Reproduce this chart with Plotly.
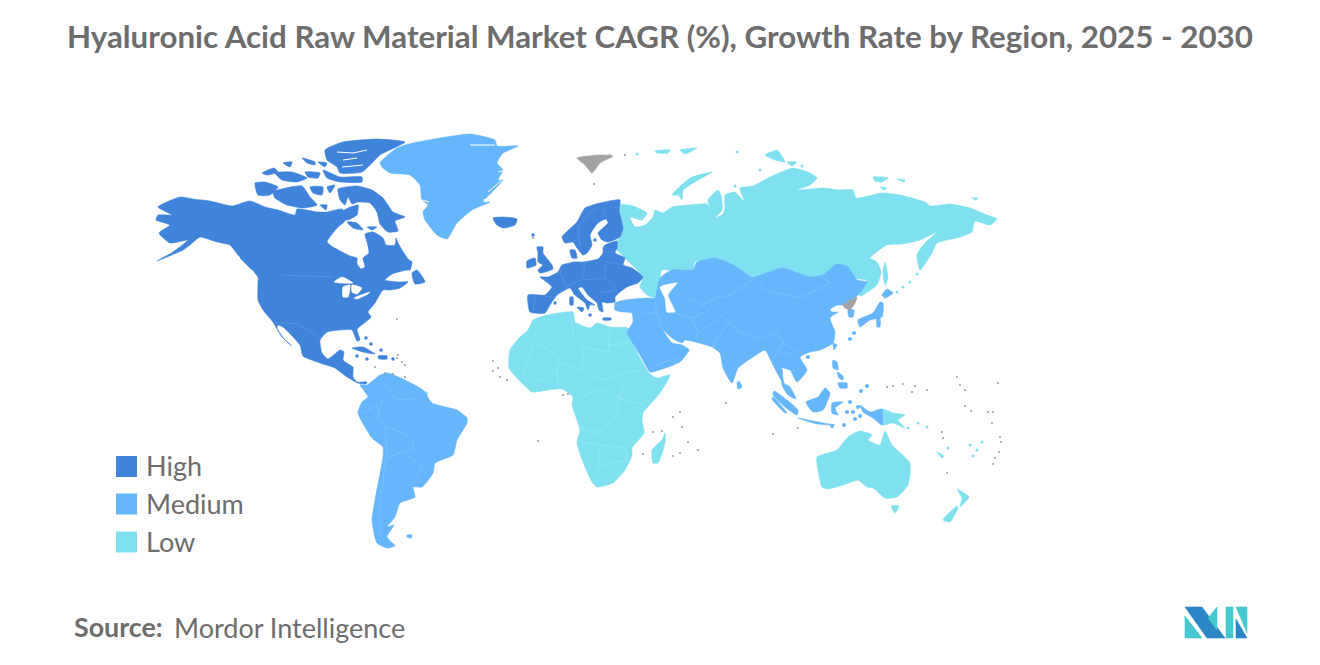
import plotly.graph_objects as go

# No topojson without network, so the outlines are traced off the reference,
# in map units (x to the right, y downwards)
HIGH_COLOR = "#3f83db"
MEDIUM_COLOR = "#66b6fb"
LOW_COLOR = "#7fe1f0"
GRAY_COLOR = "#a3a3a3"
TEXT_COLOR = "#6d6d6d"

north_america = [(158,207),(180,197),(193,199),(210,201),(232,206),(250,201),(265,207),(278,210),(295,215),(297,209),(317,212),(327,212),(342,209),(347,219),(337,228),(327,242),(333,247),(350,256),(357,258),(357,264),(361,269),(365,267),(363,258),(369,253),(367,242),(365,234),(373,232),(383,238),(386,245),(395,245),(396,238),(398,243),(408,259),(412,262),(410,270),(407,270),(392,274),(385,280),(398,282),(408,282),(400,288),(390,290),(383,290),(375,303),(368,312),(371,317),(358,328),(357,330),(360,340),(357,341),(352,330),(340,330),(327,332),(320,340),(322,353),(328,359),(340,350),(344,352),(343,360),(350,365),(353,367),(353,377),(357,382),(367,382),(366,384),(358,383),(347,377),(335,368),(323,364),(303,356),(300,345),(283,327),(278,325),(277,328),(285,340),(292,346),(282,337),(273,322),(263,310),(258,300),(258,283),(258,277),(252,270),(240,258),(230,245),(217,242),(200,237),(190,245),(183,250),(157,261),(173,252),(188,240),(170,243),(159,233),(170,225),(156,220),(158,215),(172,215)]
melville_peninsula = [(342,212),(348,208),(358,205),(357,215),(347,220)]
banks_island = [(255,183),(265,182),(278,187),(270,195),(258,195)]
victoria_island = [(273,192),(302,186),(310,197),(317,205),(303,208),(287,205),(275,198)]
melville_island = [(262,173),(274,168),(278,172),(267,175)]
bathurst_island = [(275,173),(292,172),(307,178),(297,182),(282,180)]
borden_island = [(283,163),(292,162),(290,167)]
ellef_ringnes = [(302,158),(315,162),(315,165),(307,163)]
cornwallis = [(305,172),(320,173),(318,178),(308,177)]
amund_ringnes = [(318,162),(327,163),(325,167)]
devon_island = [(323,170),(340,177),(362,177),(362,182),(340,182),(327,178)]
somerset = [(310,187),(323,187),(322,195),(313,193)]
brodeur = [(327,187),(335,185),(330,193)]
king_william = [(320,205),(327,205),(326,210)]
baffin_island = [(338,189),(357,186),(372,190),(383,198),(393,212),(405,217),(395,221),(398,231),(388,232),(380,224),(377,212),(370,203),(358,202),(352,204),(348,197),(345,205),(340,200)]
southampton = [(347,222),(357,223),(363,230),(353,228)]
coats_island = [(367,227),(377,227),(372,230)]
ellesmere = [(325,150),(343,142),(377,139),(405,142),(380,155),(372,163),(362,172),(340,173),(337,167),(327,160)]
newfoundland = [(412,273),(417,270),(425,282),(415,284)]
cuba = [(352,348),(363,347),(375,354),(363,352)]
hispaniola = [(378,356),(387,356),(387,359),(379,359)]
iceland = [(493,218),(503,217),(517,219),(515,225),(503,228),(497,225)]
scandinavia = [(562,237),(577,222),(585,208),(600,203),(620,200),(619,210),(623,228),(620,237),(608,242),(602,240),(598,233),(608,223),(606,219),(598,223),(590,235),(592,245),(587,253),(583,255),(577,248),(573,242),(565,243)]
denmark = [(570,250),(575,250),(577,258),(572,258)]
mainland_europe = [(605,245),(617,241),(617,248),(615,253),(625,258),(623,265),(632,268),(643,277),(638,283),(632,285),(627,287),(620,292),(615,297),(615,302),(607,303),(602,302),(603,312),(599,310),(597,303),(588,295),(582,287),(578,288),(587,300),(595,305),(590,305),(588,310),(585,303),(575,295),(570,288),(565,290),(557,295),(550,305),(545,313),(530,312),(528,295),(545,295),(552,287),(548,283),(540,277),(548,277),(558,272),(562,265),(570,263),(573,262),(583,262),(598,259),(603,253),(603,248)]
great_britain = [(537,247),(543,247),(543,253),(552,265),(553,269),(540,273),(538,270),(543,265),(538,262),(538,253)]
ireland = [(527,261),(535,258),(536,265),(527,268)]
sardinia = [(570,297),(573,297),(573,305),(570,305)]
sicily = [(577,307),(584,308),(582,312)]
crete = [(603,318),(611,318),(611,320),(603,320)]

greenland = [(380,163),(397,148),(413,143),(440,138),(470,134),(495,140),(497,146),(518,146),(503,153),(497,163),(503,170),(498,180),(503,180),(492,192),(483,202),(490,202),(472,210),(457,223),(447,239),(437,235),(425,220),(423,212),(428,205),(422,200),(420,185),(410,175),(390,173),(383,168)]
mainland_asia = [(615,303),(625,300),(647,298),(655,298),(660,278),(672,270),(693,270),(697,262),(715,258),(733,265),(753,277),(782,268),(810,277),(823,275),(837,264),(848,267),(857,280),(867,282),(858,295),(843,305),(837,305),(828,310),(827,307),(832,312),(838,312),(830,318),(835,332),(833,343),(820,350),(810,352),(800,357),(807,370),(797,382),(790,370),(782,368),(783,383),(773,365),(765,350),(753,357),(738,368),(732,383),(723,368),(720,353),(712,347),(685,340),(682,343),(672,338),(663,330),(668,338),(672,343),(682,345),(689,350),(680,362),(653,372),(650,372),(640,355),(628,335),(627,332),(633,322),(632,313),(623,312),(615,310)]
south_korea = [(848,310),(854,310),(853,317),(849,317)]
honshu = [(858,320),(873,313),(880,302),(883,303),(882,317),(870,320),(860,327)]
hokkaido = [(882,295),(887,289),(893,293),(885,298)]
kyushu = [(877,318),(880,318),(880,327),(877,327)]
taiwan = [(833,343),(837,345),(834,350)]
sri_lanka = [(739,381),(742,387),(738,389),(737,383)]
malay_peninsula = [(782,370),(784,383),(790,387),(796,399),(788,395),(782,385)]
sumatra = [(774,391),(798,410),(797,415),(785,407),(773,395)]
mentawai = [(773,397),(787,413),(785,413),(772,399)]
borneo = [(825,388),(830,393),(823,410),(813,412),(806,402),(818,397)]
sulawesi = [(832,403),(843,402),(835,408),(838,415),(832,413)]
java = [(798,418),(818,422),(835,425),(817,424)]
west_new_guinea = [(860,405),(870,412),(882,409),(882,425),(873,418),(863,412)]
luzon = [(833,360),(837,362),(838,370),(833,368)]
visayas = [(837,372),(843,376),(843,380),(839,378)]
mindanao = [(838,383),(847,383),(847,388),(840,388)]
south_america = [(367,385),(380,375),(388,373),(405,380),(423,390),(432,403),(457,410),(467,418),(467,423),(457,440),(453,455),(435,463),(433,473),(422,487),(413,487),(415,497),(400,503),(395,517),(387,527),(394,525),(387,537),(395,546),(387,548),(377,543),(372,520),(375,500),(383,457),(383,447),(372,438),(358,413),(362,402),(368,397),(360,385)]
falklands = [(407,535),(412,535),(411,538),(407,537)]

russia = [(618,205),(630,205),(647,213),(642,220),(630,217),(635,227),(645,225),(653,217),(655,210),(663,213),(672,207),(690,205),(707,204),(710,208),(708,200),(718,190),(721,195),(722,210),(715,218),(723,214),(725,207),(725,195),(735,192),(738,195),(745,202),(742,195),(740,188),(753,186),(770,177),(793,168),(810,173),(817,178),(810,185),(797,190),(823,188),(840,190),(853,190),(856,198),(882,193),(900,195),(925,202),(930,206),(950,204),(970,208),(987,215),(997,219),(990,225),(975,221),(972,232),(960,237),(937,243),(932,253),(920,270),(917,255),(925,243),(937,232),(920,240),(903,244),(887,245),(870,258),(877,262),(881,272),(877,285),(860,296),(858,288),(867,280),(853,278),(840,264),(823,276),(810,277),(783,269),(757,277),(737,270),(717,258),(695,262),(692,272),(662,270),(660,280),(665,285),(660,288),(662,300),(647,295),(640,287),(643,277),(627,260),(615,247),(617,242),(622,233),(623,227)]
sakhalin = [(885,262),(888,278),(885,285),(883,272)]
novaya_zemlya = [(672,195),(690,178),(712,172),(695,182),(683,190),(682,200),(678,195)]
franz_josef_w = [(655,151),(670,150),(668,153),(657,153)]
franz_josef_e = [(680,150),(697,148),(685,154)]
severnaya_zemlya = [(765,155),(777,150),(785,162),(775,160)]
bolshevik = [(787,162),(797,162),(792,166)]
new_siberian = [(873,177),(888,178),(882,182),(875,181)]
new_siberian_e = [(897,179),(905,180),(904,182)]
lyakhovsky = [(880,187),(887,188),(884,190)]
wrangel = [(972,198),(978,198),(976,200)]
africa = [(533,320),(547,315),(573,312),(575,322),(590,328),(597,323),(610,327),(628,328),(630,337),(640,358),(650,374),(657,378),(670,375),(660,393),(643,413),(642,420),(644,433),(632,448),(632,455),(625,470),(613,483),(597,487),(592,482),(585,467),(577,443),(580,430),(572,405),(573,397),(562,389),(548,390),(532,392),(517,378),(509,368),(510,350),(520,337),(528,330)]
madagascar = [(665,433),(665,443),(658,463),(653,463),(652,450),(662,440)]
australia = [(817,457),(837,450),(848,437),(860,431),(872,435),(868,440),(880,445),(885,431),(892,445),(910,463),(908,485),(897,497),(885,498),(873,488),(867,487),(858,480),(843,485),(828,489),(822,487),(818,470)]
tasmania = [(891,506),(899,506),(895,513)]
nz_north = [(957,489),(969,497),(960,507),(962,498)]
nz_south = [(957,506),(958,508),(950,522),(943,520)]
new_caledonia = [(937,452),(944,456),(942,458)]
papua_new_guinea = [(882,409),(893,413),(905,415),(898,420),(905,428),(893,423),(882,425)]
french_guiana = [(423,391),(428,393),(426,397),(423,396)]

svalbard = [(577,158),(600,155),(613,156),(600,163),(592,173),(585,165)]
north_korea = [(843,305),(857,297),(855,303),(850,310),(845,308)]

# inland water on top of the land
caspian_sea = [(660,287),(677,283),(668,295),(675,312),(667,312),(665,298)]
lake_superior = [(334,282),(342,277),(353,283),(340,283)]
lake_michigan = [(343,287),(350,285),(348,297),(343,297)]
lake_huron = [(352,285),(362,288),(357,294),(352,292)]
lake_erie = [(354,298),(370,292),(368,294),(357,299)]
baffin_lake = [(368,209),(372,209),(372,213),(368,213)]

high_shapes = [north_america, melville_peninsula, banks_island, victoria_island, melville_island, bathurst_island, borden_island, ellef_ringnes, cornwallis, amund_ringnes, devon_island, somerset, brodeur, king_william, baffin_island, southampton, coats_island, ellesmere, newfoundland, cuba, hispaniola, iceland, scandinavia, denmark, mainland_europe, great_britain, ireland, sardinia, sicily, crete]
medium_shapes = [greenland, mainland_asia, south_korea, honshu, hokkaido, kyushu, taiwan, sri_lanka, malay_peninsula, sumatra, mentawai, borneo, sulawesi, java, west_new_guinea, luzon, visayas, mindanao, south_america, falklands]
low_shapes = [russia, sakhalin, novaya_zemlya, franz_josef_w, franz_josef_e, severnaya_zemlya, bolshevik, new_siberian, new_siberian_e, lyakhovsky, wrangel, africa, madagascar, australia, tasmania, nz_north, nz_south, new_caledonia, papua_new_guinea, french_guiana]
gray_shapes = [svalbard, north_korea]
water_shapes = [caspian_sea, lake_superior, lake_michigan, lake_huron, lake_erie]

# fjords and sounds
water_lines = [[(337,152),(353,153),(367,150)],[(343,160),(357,158)],[(342,167),(363,165)],[(470,145),(495,145)],[(483,200),(497,197)],[(488,192),(502,180)],[(498,172),(505,170)],[(422,200),(429,202)],[(228,245),(240,258)],[(252,270),(258,280)]]

# country borders, slightly lighter than the fill
high_borders = [[(282,275),(307,276),(333,277)],[(275,322),(298,324),(307,329),(320,338)],[(600,205),(588,215),(578,227),(580,247)],[(603,207),(606,220)],[(545,296),(556,298)],[(535,295),(533,311)],[(560,270),(563,280),(567,287)],[(585,262),(583,277)],[(605,265),(605,277)],[(605,262),(625,265)],[(565,287),(580,280),(605,278)],[(605,278),(617,290),(600,293)],[(605,253),(617,250)]]
medium_borders = [[(685,298),(703,305),(717,298),(730,295),(755,278)],[(758,280),(765,290),(800,298),(830,283),(823,277)],[(692,318),(698,333),(695,338)],[(698,333),(720,318),(728,310)],[(728,322),(740,332),(757,338),(777,333),(783,342)],[(728,322),(718,338),(712,347)],[(670,312),(692,318),(710,310)],[(643,313),(657,313),(655,302)],[(657,313),(663,330)],[(653,367),(678,357)],[(783,342),(772,362)],[(780,355),(795,352)],[(783,342),(797,352)],[(383,398),(378,417),(387,427),(403,433),(413,442),(413,450),(403,452),(423,467),(413,483)],[(362,413),(377,405),(378,417)],[(383,383),(397,400),(420,398)],[(385,427),(387,455),(380,500),(380,537)],[(388,457),(403,452)]]
low_borders = [[(523,372),(535,342),(558,355),(558,363)],[(583,347),(582,370),(558,363)],[(572,320),(573,337),(583,347),(608,352),(610,327)],[(610,345),(630,343)],[(585,370),(602,380),(628,372),(643,370)],[(580,397),(600,390),(618,397),(618,415),(600,433),(580,428)],[(628,380),(618,397),(643,405)],[(578,442),(600,445),(625,448),(628,460),(598,467)],[(600,445),(598,467)],[(557,368),(558,388)],[(523,372),(533,382),(543,378),(557,368)]]

# small islands
high_dots = [(366,338),(371,344),(381,350),(367,359),(357,356),(393,359),(533,235),(575,293),(590,315),(555,303),(595,240)]
medium_dots = [(854,333),(850,339),(808,357),(867,386),(861,391),(855,419),(860,416),(850,402),(858,407),(847,412),(853,412),(832,426),(844,425)]
low_dots = [(970,445),(982,442),(977,450),(973,456),(918,423),(927,427),(908,428),(948,448),(737,152),(637,154),(760,170),(735,186),(802,166),(897,292),(903,287),(910,282),(917,274)]
gray_dots = [(493,361),(498,368),(493,371),(507,380),(500,377),(653,432),(662,431),(643,454),(673,417),(680,412),(682,427),(688,442),(698,450),(680,453),(673,456),(726,403),(538,441),(568,394),(563,395),(887,387),(893,386),(903,384),(915,386),(927,390),(912,392),(957,377),(960,385),(965,390),(965,406),(971,411),(988,412),(993,412),(992,423),(998,383),(1000,437),(1001,442),(999,452),(995,458),(993,464),(947,473),(773,434),(798,428),(942,432),(943,438),(397,319),(375,367),(385,373),(393,374),(405,377),(397,358),(402,362),(405,365),(398,355),(610,155),(625,155),(594,184),(533,238)]

legend_labels = ["High", "Medium", "Low"]
legend_colors = [HIGH_COLOR, MEDIUM_COLOR, LOW_COLOR]
legend_x = [126.5, 126.5, 126.5]
legend_y = [466.5, 504, 542]
text_x = 144

logo_blue = [[(1185,607),(1202,607),(1225,638),(1207,638)],[(1236,619),(1247,638),(1236,638)]]
logo_teal = [[(1185,616),(1202,638),(1185,638)],[(1208,618),(1217,607),(1217,630)],[(1226,607),(1233,607),(1233,638),(1226,638)],[(1236,607),(1247,607),(1247,633)]]


def path_xy(shapes):
    xs, ys = [], []
    for shape in shapes:
        xs += [p[0] for p in shape] + [shape[0][0], None]
        ys += [p[1] for p in shape] + [shape[0][1], None]
    return xs, ys


def line_xy(lines):
    xs, ys = [], []
    for line in lines:
        xs += [p[0] for p in line] + [None]
        ys += [p[1] for p in line] + [None]
    return xs, ys


fig = go.Figure()


def add_fill(shapes, color, shape="spline"):
    xs, ys = path_xy(shapes)
    fig.add_trace(go.Scatter(x=xs, y=ys, mode="lines", fill="toself", fillcolor=color,
                             line=dict(color=color, width=0.6, shape=shape, smoothing=0.5),
                             hoverinfo="skip", showlegend=False))


def add_lines(lines, color, width=0.5):
    xs, ys = line_xy(lines)
    fig.add_trace(go.Scatter(x=xs, y=ys, mode="lines", line=dict(color=color, width=width),
                             hoverinfo="skip", showlegend=False))


def add_dots(dots, color, size):
    fig.add_trace(go.Scatter(x=[p[0] for p in dots], y=[p[1] for p in dots], mode="markers",
                             marker=dict(color=color, size=size, line_width=0),
                             hoverinfo="skip", showlegend=False))


add_fill(low_shapes, LOW_COLOR)
add_fill(medium_shapes, MEDIUM_COLOR)
add_fill(high_shapes, HIGH_COLOR)
add_fill(gray_shapes, GRAY_COLOR)
add_fill(water_shapes, "white")
add_lines(water_lines, "white", 1)
add_lines(high_borders, "#6ba0e6")
add_lines(medium_borders, "#8fcafd")
add_lines(low_borders, "#a4ecf6")
add_dots(high_dots, HIGH_COLOR, 3.5)
add_dots(medium_dots, MEDIUM_COLOR, 4)
add_dots(low_dots, LOW_COLOR, 3)
add_dots(gray_dots, GRAY_COLOR, 2.2)

# legend
fig.add_trace(go.Scatter(x=legend_x, y=legend_y, mode="markers",
                         marker=dict(symbol="square", size=21, color=legend_colors, line_width=0),
                         hoverinfo="skip", showlegend=False))
for label, y in zip(legend_labels, legend_y):
    fig.add_annotation(x=text_x, y=y - 1, text=label, showarrow=False, xanchor="left", yanchor="middle",
                       font=dict(family="Lato", size=27, color=TEXT_COLOR))

# logo
add_fill(logo_blue, "#2b86c5", "linear")
add_fill(logo_teal, "#45c8ce", "linear")

fig.add_annotation(x=660, y=36, text="Hyaluronic Acid Raw Material Market CAGR (%), Growth Rate by Region, 2025 - 2030",
                   showarrow=False, xanchor="center", yanchor="middle",
                   font=dict(family="Lato", size=31.3, color=TEXT_COLOR, weight=700))
fig.add_annotation(x=72, y=627, text="<b>Source:</b>", showarrow=False, xanchor="left", yanchor="middle",
                   font=dict(family="Lato", size=26.8, color=TEXT_COLOR))
fig.add_annotation(x=172, y=627, text="Mordor Intelligence", showarrow=False, xanchor="left", yanchor="middle",
                   font=dict(family="Lato", size=27, color=TEXT_COLOR))

# the page body has an 8px margin, so the axes start at 8
fig.update_layout(
    width=1320,
    height=665,
    margin=dict(l=0, r=0, t=0, b=0),
    plot_bgcolor="white",
    paper_bgcolor="white",
    showlegend=False,
    xaxis=dict(range=[8, 1328], visible=False, fixedrange=True),
    yaxis=dict(range=[673, 8], visible=False, fixedrange=True),
)

fig.write_html("out.html")
